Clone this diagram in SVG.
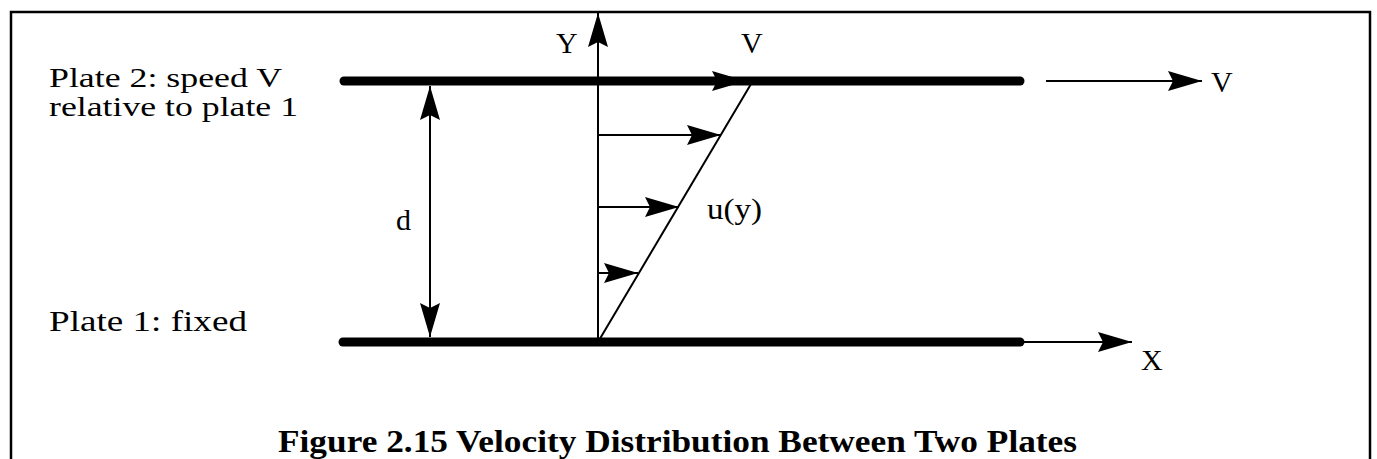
<svg xmlns="http://www.w3.org/2000/svg" width="1377" height="459" viewBox="0 0 1377 459">
<style>
  .plate { stroke: #000; stroke-width: 9; stroke-linecap: round; fill: none; }
  .thin { stroke: #000; stroke-width: 2; fill: none; }
  .frame { stroke: #000; stroke-width: 2.5; fill: none; }
</style>
<defs>
  <marker id="ah" viewBox="-35 -11 36 22" markerWidth="36" markerHeight="22" refX="0" refY="0" orient="auto-start-reverse" markerUnits="userSpaceOnUse">
    <path d="M0,0 L-34,-10 L-29,0 L-34,10 Z" fill="#000"/>
  </marker>
</defs>
<rect class="frame" x="11" y="12" width="1359" height="470"/>
<g id="plate2">
  <line class="plate" x1="344" y1="81" x2="1020" y2="81"/>
  <text x="49" y="87" font-family="Liberation Serif" font-size="27" textLength="233" lengthAdjust="spacingAndGlyphs">Plate 2: speed V</text>
  <text x="49" y="116" font-family="Liberation Serif" font-size="27" textLength="249" lengthAdjust="spacingAndGlyphs">relative to plate 1</text>
</g>
<g id="plate1">
  <line class="plate" x1="343" y1="342" x2="1020" y2="342"/>
  <text x="49" y="331" font-family="Liberation Serif" font-size="29" textLength="198" lengthAdjust="spacingAndGlyphs">Plate 1: fixed</text>
</g>
<g id="profile">
  <line class="thin" x1="598" y1="342" x2="751" y2="84" stroke-width="2.5"/>
  <text x="707" y="219" font-family="Liberation Serif" font-size="30" textLength="55" lengthAdjust="spacingAndGlyphs">u(y)</text>
</g>
<g id="labels">
  <text x="556" y="53" font-family="Liberation Serif" font-size="30">Y</text>
  <text x="741" y="53" font-family="Liberation Serif" font-size="30">V</text>
  <text x="1211" y="92" font-family="Liberation Serif" font-size="30">V</text>
  <text x="1141" y="370" font-family="Liberation Serif" font-size="30">X</text>
  <text x="396" y="230" font-family="Liberation Serif" font-size="30">d</text>
</g>
<g id="caption">
  <text x="278" y="452" font-family="Liberation Serif" font-size="32" font-weight="bold" textLength="799" lengthAdjust="spacingAndGlyphs">Figure 2.15 Velocity Distribution Between Two Plates</text>
</g>
<g id="connectors">
  <line class="thin" x1="598" y1="342" x2="598" y2="13" marker-end="url(#ah)"/>
  <line class="thin" x1="430" y1="86" x2="430" y2="337" marker-start="url(#ah)" marker-end="url(#ah)"/>
  <line class="thin" x1="598" y1="135" x2="721" y2="135" marker-end="url(#ah)"/>
  <line class="thin" x1="598" y1="207" x2="679" y2="207" marker-end="url(#ah)"/>
  <line class="thin" x1="598" y1="273" x2="638" y2="273" marker-end="url(#ah)"/>
  <line class="thin" x1="700" y1="81" x2="746" y2="81" marker-end="url(#ah)"/>
  <line class="thin" x1="1046" y1="81" x2="1202" y2="81" marker-end="url(#ah)"/>
  <line class="thin" x1="1015" y1="342" x2="1132" y2="342" marker-end="url(#ah)"/>
</g>
</svg>
